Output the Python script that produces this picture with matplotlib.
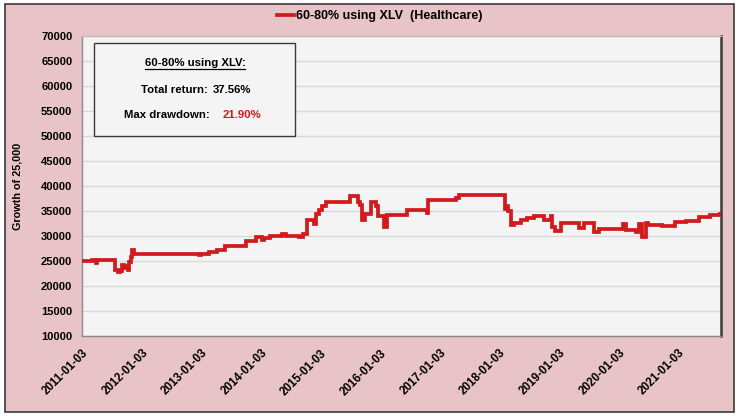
import matplotlib
matplotlib.use("Agg")
import matplotlib.pyplot as plt
from matplotlib.patches import Rectangle
from matplotlib.lines import Line2D
import pandas as pd

plt.rcParams['font.family'] = ['Liberation Sans', 'DejaVu Sans']

# ---- data ----
dates = [
    "2011-01-03", "2011-03-07", "2011-03-28", "2011-04-04", "2011-07-05", "2011-07-25",
    "2011-08-08", "2011-08-22", "2011-09-06", "2011-09-19", "2011-10-03", "2011-10-10",
    "2011-10-17", "2011-10-31", "2011-11-07", "2011-11-14", "2012-12-17", "2012-12-31",
    "2013-02-19", "2013-04-08", "2013-05-28", "2013-09-30", "2013-12-02", "2014-01-06",
    "2014-01-21", "2014-02-24", "2014-05-12", "2014-06-02", "2014-08-25", "2014-09-15",
    "2014-10-13", "2014-11-24", "2014-12-08", "2014-12-22", "2015-01-12", "2015-02-02",
    "2015-02-09", "2015-06-29", "2015-08-17", "2015-09-01", "2015-09-14", "2015-10-01",
    "2015-11-09", "2015-12-07", "2015-12-21", "2016-01-25", "2016-02-16", "2016-06-13",
    "2016-10-17", "2016-10-24", "2017-04-10", "2017-05-01", "2017-08-07", "2018-02-05",
    "2018-02-12", "2018-02-26", "2018-03-12", "2018-04-02", "2018-05-14", "2018-06-18",
    "2018-07-30", "2018-10-01", "2018-11-12", "2018-11-19", "2018-12-10", "2019-01-14",
    "2019-05-06", "2019-06-03", "2019-08-05", "2019-09-03", "2020-01-27", "2020-02-18",
    "2020-04-20", "2020-05-04", "2020-05-26", "2020-06-15", "2020-06-29", "2020-09-21",
    "2020-12-14", "2021-02-15", "2021-05-10", "2021-07-12", "2021-09-13",
]
growth = [
    25000, 25200, 24700, 25200, 25300, 23200,
    22800, 23100, 24200, 23600, 24000, 23300,
    24800, 25800, 27300, 26500, 26300, 26500,
    26900, 27200, 28100, 29000, 29800, 29200,
    29700, 30000, 30400, 30000, 29800, 30500,
    33300, 32500, 34500, 35300, 36000, 36800,
    36900, 38000, 36900, 36200, 33200, 34500,
    36900, 36000, 34000, 31900, 34200, 35200,
    34600, 37300, 37600, 38200, 38300, 35500,
    36000, 35000, 32200, 32700, 33200, 33700,
    34100, 33200, 34100, 31900, 31000, 32700,
    31700, 32700, 30900, 31500, 32400, 31200,
    30900, 32500, 29900, 32600, 32300, 32000,
    32800, 33100, 33800, 34300, 34390,
]
tick_labels = ["2011-01-03", "2012-01-03", "2013-01-03", "2014-01-03", "2015-01-03",
               "2016-01-03", "2017-01-03", "2018-01-03", "2019-01-03", "2020-01-03",
               "2021-01-03"]
y_ticks = list(range(10000, 70001, 5000))
series_name = "60-80% using XLV  (Healthcare)"
box_title = "60-80% using XLV:"
total_return = "37.56%"
max_drawdown = "21.90%"

# ---- styling ----
PINK = "#E8C3C7"
PLOT_BG = "#F4F4F4"
RED = "#D21A1E"

W, H = 740, 416
fig = plt.figure(figsize=(W / 100, H / 100), dpi=100, facecolor="white")

# outer pink frame
fig.patches.append(Rectangle((5 / W, 4 / H), 729 / W, 408 / H, transform=fig.transFigure,
                             facecolor=PINK, edgecolor="#3A3A3A", linewidth=1.2, zorder=-10))

ax = fig.add_axes([82 / W, (H - 336) / H, 639 / W, 300 / H])
ax.set_zorder(1)
ax.set_facecolor(PLOT_BG)

x = pd.to_datetime(dates)
ax.plot(x, growth, drawstyle="steps-post", color=RED, linewidth=2.7,
        solid_joinstyle="miter", label=series_name, zorder=3)

ax.set_ylim(10000, 70000)
ax.set_yticks(y_ticks)
ax.set_yticklabels([str(v) for v in y_ticks], fontsize=8, fontweight="bold")
ax.yaxis.grid(True, color="#D9D9D9", linewidth=1.0)
ax.set_axisbelow(True)

tick_dates = pd.to_datetime(tick_labels)
ax.set_xlim(pd.Timestamp("2011-01-02"), pd.Timestamp("2021-09-20"))
ax.set_xticks(tick_dates)
ax.set_xticklabels(tick_labels, rotation=45, ha="right", rotation_mode="anchor",
                   fontsize=8.3, fontweight="bold")
ax.tick_params(axis="both", length=0)
ax.tick_params(axis="y", pad=7)
ax.tick_params(axis="x", pad=8)

for side in ["left", "bottom"]:
    ax.spines[side].set_color("#8A8A8A")
    ax.spines[side].set_linewidth(1.0)
ax.spines["top"].set_color("#BDBDBD")
ax.spines["top"].set_linewidth(1.0)
ax.spines["right"].set_color("#3A3A3A")
ax.spines["right"].set_linewidth(1.8)

ax.set_ylabel("Growth of 25,000", fontsize=7.8, fontweight="bold", labelpad=13)

# legend at top
leg = ax.legend(loc="center", bbox_to_anchor=(0.466, 1.067), frameon=False,
                handlelength=1.3, handletextpad=0.15, borderaxespad=0, borderpad=0,
                prop={"size": 9, "weight": "bold"})

# stats box
ax.add_patch(Rectangle((12 / 639, 200 / 300), 201 / 639, 93 / 300, transform=ax.transAxes,
                       facecolor=PLOT_BG, edgecolor="#3A3A3A", linewidth=1.0, zorder=4))
cx = 113 / 639
t_title = ax.text(cx, 273 / 300, box_title, transform=ax.transAxes, ha="center", va="center",
                  fontsize=8.2, fontweight="bold", zorder=5)
ax.text(126 / 639, 246 / 300, "Total return:", transform=ax.transAxes, ha="right",
        va="center", fontsize=8.2, fontweight="bold", zorder=5)
ax.text(131 / 639, 246 / 300, total_return, transform=ax.transAxes, ha="left",
        va="center", fontsize=8.2, fontweight="bold", zorder=5)
ax.text(128 / 639, 221 / 300, "Max drawdown:", transform=ax.transAxes, ha="right",
        va="center", fontsize=8.2, fontweight="bold", zorder=5)
ax.text(141 / 639, 221 / 300, max_drawdown, transform=ax.transAxes, ha="left",
        va="center", fontsize=8.2, fontweight="bold", color=RED, zorder=5)

# underline the box title
renderer = fig.canvas.get_renderer()
bb = t_title.get_window_extent(renderer=renderer)
inv = ax.transAxes.inverted()
(x0, y0), (x1, y1) = inv.transform([(bb.x0, bb.y0), (bb.x1, bb.y0)])
ax.add_line(Line2D([x0, x1], [y0 - 0.002, y1 - 0.002], transform=ax.transAxes,
                   color="black", linewidth=0.9, zorder=6))

fig.savefig("out.png", dpi=100, facecolor=fig.get_facecolor())
